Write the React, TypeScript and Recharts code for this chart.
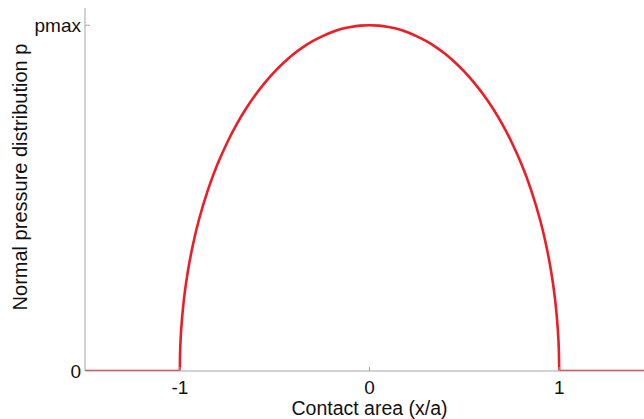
import React from "react";
import { LineChart, Line, XAxis, YAxis, Label } from "recharts";

const xValues = [
  -1.5, -1, -0.999, -0.995, -0.99, -0.98, -0.96, -0.94, -0.92, -0.9, -0.85, -0.8, -0.75, -0.7, -0.65, -0.6, -0.55, -0.5,
  -0.45, -0.4, -0.35, -0.3, -0.25, -0.2, -0.15, -0.1, -0.05, 0,
  0.05, 0.1, 0.15, 0.2, 0.25, 0.3, 0.35, 0.4, 0.45, 0.5, 0.55, 0.6, 0.65, 0.7, 0.75, 0.8, 0.85, 0.9, 0.92, 0.94, 0.96,
  0.98, 0.99, 0.995, 0.999, 1, 1.5,
];
const pValues = [
  0, 0, 0.045, 0.1, 0.141, 0.199, 0.28, 0.341, 0.392, 0.436, 0.527, 0.6, 0.661, 0.714, 0.76, 0.8, 0.835, 0.866,
  0.893, 0.917, 0.937, 0.954, 0.968, 0.98, 0.989, 0.995, 0.999, 1,
  0.999, 0.995, 0.989, 0.98, 0.968, 0.954, 0.937, 0.917, 0.893, 0.866, 0.835, 0.8, 0.76, 0.714, 0.661, 0.6, 0.527, 0.436,
  0.392, 0.341, 0.28, 0.199, 0.141, 0.1, 0.045, 0, 0,
];
const xTicks = [-1, 0, 1];
const xTickLabels = ["-1", "0", "1"];
const yTicks = [0, 1];
const yTickLabels = ["0", "pmax"];

const data = xValues.map((x, i) => ({ x, p: pValues[i] }));

const FONT = "'Liberation Sans', Arial, Helvetica, sans-serif";
const AXIS_COLOR = "#a6a6a6";

const XTick = (props: any) => {
  const { x, y, payload } = props;
  const idx = xTicks.indexOf(payload.value);
  return (
    <g>
      <line x1={x} y1={y} x2={x} y2={y - 4} stroke={AXIS_COLOR} strokeWidth={1} />
      <text x={x} y={y + 16} textAnchor="middle" dominantBaseline="central" fontFamily={FONT} fontSize={19} fill="#111">
        {xTickLabels[idx]}
      </text>
    </g>
  );
};

const YTick = (props: any) => {
  const { x, y, payload } = props;
  const idx = yTicks.indexOf(payload.value);
  return (
    <g>
      {payload.value !== 0 && <line x1={x} y1={y} x2={x + 5} y2={y} stroke={AXIS_COLOR} strokeWidth={1} />}
      <text x={x - 4} y={y} textAnchor="end" dominantBaseline="central" fontFamily={FONT} fontSize={19} fill="#111">
        {yTickLabels[idx]}
      </text>
    </g>
  );
};

export default function App() {
  return (
    <div style={{ position: "absolute", left: 0, top: 0, width: 644, height: 419, overflow: "hidden", background: "#fff" }}>
      <LineChart width={660} height={419} data={data} margin={{ top: 8, right: 6, bottom: 0, left: 0 }}>
        <XAxis
          dataKey="x"
          type="number"
          domain={[-1.5, 1.5]}
          ticks={xTicks}
          tick={<XTick />}
          tickLine={false}
          tickSize={0}
          tickMargin={0}
          height={48}
          axisLine={{ stroke: AXIS_COLOR, strokeWidth: 1 }}
          allowDataOverflow
        >
          <Label
            content={(p: any) => {
              const vb = p.viewBox;
              return (
                <text x={vb.x + vb.width / 2} y={415} textAnchor="middle" fontFamily={FONT} fontSize={19.5} fill="#111">
                  Contact area (x/a)
                </text>
              );
            }}
          />
        </XAxis>
        <YAxis
          type="number"
          domain={[0, 1.05]}
          ticks={yTicks}
          tick={<YTick />}
          tickLine={false}
          tickSize={0}
          tickMargin={0}
          width={85}
          axisLine={{ stroke: AXIS_COLOR, strokeWidth: 1 }}
          allowDataOverflow
        >
          <Label
            content={() => {
              const cy = 177;
              return (
                <text
                  x={20}
                  y={cy}
                  transform={`rotate(-90, 20, ${cy})`}
                  textAnchor="middle"
                  dominantBaseline="central"
                  fontFamily={FONT}
                  fontSize={20}
                  fill="#111"
                >
                  Normal pressure distribution p
                </text>
              );
            }}
          />
        </YAxis>
        <Line
          type="monotone"
          dataKey="p"
          stroke="#ee1c25"
          strokeWidth={2.6}
          dot={false}
          activeDot={false}
          isAnimationActive={false}
        />
      </LineChart>
    </div>
  );
}
